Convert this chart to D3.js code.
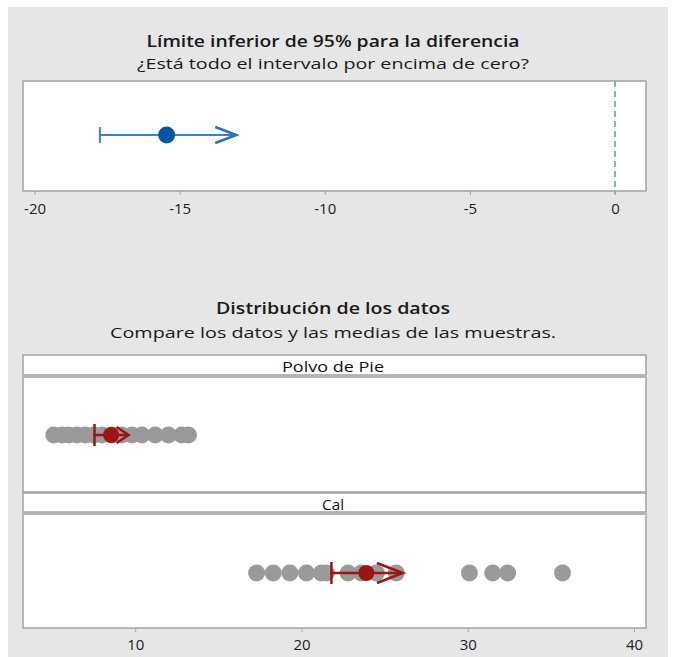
<!DOCTYPE html>
<html lang="es">
<head>
  <meta charset="utf-8">
  <script src="https://d3js.org/d3.v7.min.js"></script>
  <style>
    body { margin: 0; background: #fff; font-family: "Open Sans", "Noto Sans", sans-serif; }
    .tick text { font: 15px "Open Sans", sans-serif; fill: #222; }
  </style>
</head>
<body>
<div id="chart"></div>
<script>
  // ---- data ----
  var diffTicks = [-20, -15, -10, -5, 0];
  var diffLower = -17.75;   // lower 95% bound
  var diffEstimate = -15.45;
  var diffArrowEnd = -13.05;
  var diffRef = 0;

  var groups = ["Polvo de Pie", "Cal"];
  var polvoValues = [5.1, 5.6, 6.0, 6.5, 7.0, 7.5, 8.0, 8.6, 9.2, 9.8, 10.4, 11.2, 12.0, 12.8, 13.2];
  var calValues = [17.3, 18.3, 19.3, 20.3, 21.2, 21.5, 22.8, 23.6, 24.5, 25.7, 30.1, 31.5, 32.4, 35.7];
  var groupMeans = [8.55, 23.9];
  var groupLower = [7.55, 21.8];
  var groupArrowEnd = [9.6, 26.1];
  var dataTicks = [10, 20, 30, 40];

  var W = 680, H = 657;
  var red = "#9c1515", blue = "#0055a5", dotGray = "#9a9a9a", frame = "#a3a3a3";

  var svg = d3.select("#chart").append("svg")
      .attr("width", W).attr("height", H);

  svg.append("rect").attr("x", 8).attr("y", 7).attr("width", 660).attr("height", H - 7)
      .attr("fill", "#e6e6e6");

  function title(y1, y2, t1, t2, w1, w2) {
    svg.append("text").attr("x", 333).attr("y", y1).attr("text-anchor", "middle")
        .style("font", "600 16px 'Open Sans', sans-serif").attr("fill", "#1a1a1a")
        .attr("textLength", w1).attr("lengthAdjust", "spacingAndGlyphs").text(t1);
    svg.append("text").attr("x", 333).attr("y", y2).attr("text-anchor", "middle")
        .style("font", "15px 'Open Sans', sans-serif").attr("fill", "#1a1a1a")
        .attr("textLength", w2).attr("lengthAdjust", "spacingAndGlyphs").text(t2);
  }

  function arrowHead(g, xTip, y, len, half, color, sw) {
    g.append("path")
        .attr("d", "M" + (xTip - len) + "," + (y - half) + "L" + xTip + "," + y + "L" + (xTip - len) + "," + (y + half))
        .attr("fill", "none").attr("stroke", color).attr("stroke-width", sw)
        .attr("stroke-linejoin", "miter");
  }

  // ---- top panel: lower bound for difference ----
  title(47, 69, "Límite inferior de 95% para la diferencia",
      "¿Está todo el intervalo por encima de cero?", 373, 392);

  var x1 = d3.scaleLinear().domain([-20.4, 1.07]).range([23, 646]);
  var top1 = 81, bot1 = 191;

  svg.append("rect").attr("x", 23).attr("y", top1).attr("width", 623).attr("height", bot1 - top1)
      .attr("fill", "#fff").attr("stroke", frame).attr("stroke-width", 1.5);

  svg.append("line").attr("x1", x1(diffRef)).attr("x2", x1(diffRef))
      .attr("y1", top1).attr("y2", bot1 + 3)
      .attr("stroke", "#74c28a").attr("stroke-width", 2).attr("stroke-dasharray", "6,4");

  var cy1 = 135;
  var g1 = svg.append("g");
  g1.append("line").attr("x1", x1(diffLower)).attr("x2", x1(diffArrowEnd) - 1)
      .attr("y1", cy1).attr("y2", cy1).attr("stroke", "#3f7fc3").attr("stroke-width", 2);
  g1.append("line").attr("x1", x1(diffLower)).attr("x2", x1(diffLower))
      .attr("y1", cy1 - 8).attr("y2", cy1 + 8).attr("stroke", "#3f7fc3").attr("stroke-width", 2);
  arrowHead(g1, x1(diffArrowEnd), cy1, 21, 8, "#2a6fba", 2.5);
  g1.append("circle").attr("cx", x1(diffEstimate)).attr("cy", cy1).attr("r", 8.5).attr("fill", blue);

  var ax1 = svg.append("g").attr("transform", "translate(0," + bot1 + ")")
      .call(d3.axisBottom(x1).tickValues(diffTicks).tickSize(4).tickPadding(8).tickFormat(d3.format("d")));
  ax1.select(".domain").remove();
  ax1.selectAll(".tick line").attr("stroke", frame);
  ax1.selectAll(".tick text").text(function(d) { return String(d).replace("−", "-"); });

  // ---- bottom panel: data distribution ----
  title(314, 338, "Distribución de los datos",
      "Compare los datos y las medias de las muestras.", 234, 446);

  var x2 = d3.scaleLinear().domain([3.25, 40.72]).range([23, 646]);
  var panels = [
    {name: groups[0], values: polvoValues, stripTop: 355, top: 377, bottom: 492},
    {name: groups[1], values: calValues, stripTop: 493, top: 514, bottom: 628}
  ];

  panels.forEach(function(p, i) {
    svg.append("rect").attr("x", 23).attr("y", p.stripTop).attr("width", 623).attr("height", p.top - p.stripTop - 2)
        .attr("fill", "#fff").attr("stroke", frame).attr("stroke-width", 1.5);
    svg.append("text").attr("x", 333).attr("y", p.stripTop + 17).attr("text-anchor", "middle")
        .style("font", "15px 'Open Sans', sans-serif").attr("fill", "#111")
        .attr("textLength", p.name === "Cal" ? 22 : 102).attr("lengthAdjust", "spacingAndGlyphs")
        .text(p.name);
    svg.append("rect").attr("x", 23).attr("y", p.top).attr("width", 623).attr("height", p.bottom - p.top)
        .attr("fill", "#fff").attr("stroke", frame).attr("stroke-width", 1.5);

    var cy = p.top + (i === 0 ? 58 : 59);
    var g = svg.append("g");
    g.selectAll("circle.pt").data(p.values).enter().append("circle")
        .attr("class", "pt")
        .attr("cx", function(d) { return x2(d); })
        .attr("cy", cy).attr("r", 8.5).attr("fill", dotGray);

    g.append("line").attr("x1", x2(groupLower[i])).attr("x2", x2(groupArrowEnd[i]) - 1)
        .attr("y1", cy).attr("y2", cy).attr("stroke", red).attr("stroke-width", 2.5);
    g.append("line").attr("x1", x2(groupLower[i])).attr("x2", x2(groupLower[i]))
        .attr("y1", cy - 11).attr("y2", cy + 11).attr("stroke", red).attr("stroke-width", 2.5);
    var len = i === 0 ? 12 : 26, half = i === 0 ? 8 : 10;
    arrowHead(g, x2(groupArrowEnd[i]), cy, len, half, red, 2.5);
    g.append("circle").attr("cx", x2(groupMeans[i])).attr("cy", cy).attr("r", 8).attr("fill", red);
  });

  var ax2 = svg.append("g").attr("transform", "translate(0,628)")
      .call(d3.axisBottom(x2).tickValues(dataTicks).tickSize(4).tickPadding(7).tickFormat(d3.format("d")));
  ax2.select(".domain").remove();
  ax2.selectAll(".tick line").attr("stroke", frame);
</script>
</body>
</html>
